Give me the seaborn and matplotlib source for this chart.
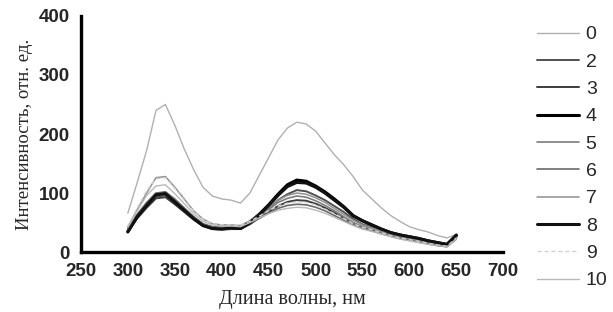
import matplotlib
matplotlib.use("Agg")
import matplotlib.pyplot as plt
import seaborn as sns
import pandas as pd

wavelength = list(range(300, 651, 10))

s0  = [66, 118, 172, 240, 250, 215, 175, 140, 110, 95, 90, 88, 83, 100, 130, 160, 190, 210, 220, 217, 205, 185, 165, 148, 128, 105, 90, 75, 62, 52, 43, 38, 34, 28, 24, 30]
s2  = [36, 60, 78, 94, 96, 84, 70, 57, 46, 41, 40, 41, 40, 50, 62, 75, 88, 98, 105, 103, 96, 88, 78, 68, 56, 47, 42, 36, 30, 26, 23, 20, 17, 14, 11, 26]
s3  = [34, 57, 75, 91, 93, 81, 68, 55, 44, 39, 38, 39, 39, 47, 58, 68, 78, 85, 88, 87, 82, 75, 67, 58, 49, 42, 38, 33, 28, 24, 21, 18, 15, 12, 10, 24]
s4  = [35, 61, 80, 98, 100, 86, 72, 58, 46, 41, 40, 42, 40, 51, 64, 80, 98, 114, 122, 120, 112, 102, 90, 77, 62, 53, 46, 39, 33, 29, 26, 23, 19, 16, 13, 28]
s5  = [38, 62, 80, 96, 98, 86, 72, 58, 47, 42, 41, 42, 41, 50, 60, 72, 84, 91, 95, 93, 87, 79, 70, 60, 50, 43, 39, 34, 29, 25, 22, 19, 16, 13, 10, 25]
s6  = [40, 64, 84, 100, 102, 90, 75, 60, 48, 43, 42, 43, 42, 49, 57, 66, 74, 79, 81, 80, 76, 70, 62, 54, 46, 40, 36, 31, 27, 23, 20, 17, 14, 11, 9, 22]
s7  = [42, 72, 100, 126, 128, 110, 90, 70, 56, 48, 46, 46, 45, 53, 64, 76, 88, 96, 100, 98, 92, 84, 74, 64, 54, 46, 41, 36, 31, 27, 23, 20, 17, 14, 11, 27]
s8  = [34, 60, 79, 97, 99, 85, 71, 57, 45, 40, 39, 41, 40, 50, 63, 79, 96, 111, 118, 117, 110, 100, 88, 76, 61, 53, 46, 39, 33, 29, 26, 23, 19, 16, 13, 29]
s9  = [44, 75, 104, 124, 126, 108, 88, 69, 55, 48, 46, 46, 45, 52, 61, 70, 78, 83, 85, 84, 80, 73, 65, 57, 48, 42, 38, 33, 28, 24, 21, 18, 15, 12, 10, 24]
s10 = [42, 70, 96, 112, 114, 99, 82, 65, 52, 46, 44, 44, 43, 50, 58, 65, 71, 74, 76, 75, 71, 66, 59, 52, 45, 39, 35, 31, 26, 22, 19, 16, 13, 11, 9, 22]

labels = ["0", "2", "3", "4", "5", "6", "7", "8", "9", "10"]
series = [s0, s2, s3, s4, s5, s6, s7, s8, s9, s10]

colors = ["#b0b0b0", "#505050", "#3c3c3c", "#000000", "#7c7c7c", "#6a6a6a", "#909090", "#111111", "#d2d2d2", "#b8b8b8"]
widths = [1.0, 1.4, 1.4, 2.2, 1.2, 1.2, 1.1, 2.2, 1.0, 1.0]
styles = ["-", "-", "-", "-", "-", "-", "-", "-", (0, (3, 2)), "-"]

sns.set_style("white")
plt.rcParams["font.family"] = ["Liberation Sans", "DejaVu Sans"]

fig = plt.figure(figsize=(6.13, 3.12), dpi=100)
ax = fig.add_axes([0.132, 0.192, 0.689, 0.757])

for lab, vals, c, w, ls in zip(labels, series, colors, widths, styles):
    df = pd.DataFrame({"x": wavelength, "y": vals})
    sns.lineplot(data=df, x="x", y="y", ax=ax, color=c, linewidth=w, linestyle=ls, label=lab)

ax.set_xlim(250, 700)
ax.set_ylim(0, 400)
ax.set_xticks(range(250, 701, 50))
ax.set_yticks(range(0, 401, 100))
for sp in ["top", "right"]:
    ax.spines[sp].set_visible(False)
for sp in ["left", "bottom"]:
    ax.spines[sp].set_linewidth(2.4)
    ax.spines[sp].set_color("black")
ax.tick_params(axis="both", direction="out", length=6, width=2.2, color="black", labelsize=13.5, pad=2)
for t in ax.get_xticklabels() + ax.get_yticklabels():
    t.set_fontweight("bold")

ax.set_xlabel("Длина волны, нм", family=["Liberation Serif", "DejaVu Serif"], fontsize=14.5, labelpad=7)
ax.set_ylabel("Интенсивность, отн. ед.", family=["Liberation Serif", "DejaVu Serif"], fontsize=13.5, labelpad=4)

ax.legend(loc="upper left", bbox_to_anchor=(527 / 613, 1 - 16 / 312), bbox_transform=fig.transFigure,
          frameon=False, fontsize=14, labelspacing=0.5, handlelength=2.16, handletextpad=0.36, borderpad=0)

fig.savefig("out.png", dpi=100)
